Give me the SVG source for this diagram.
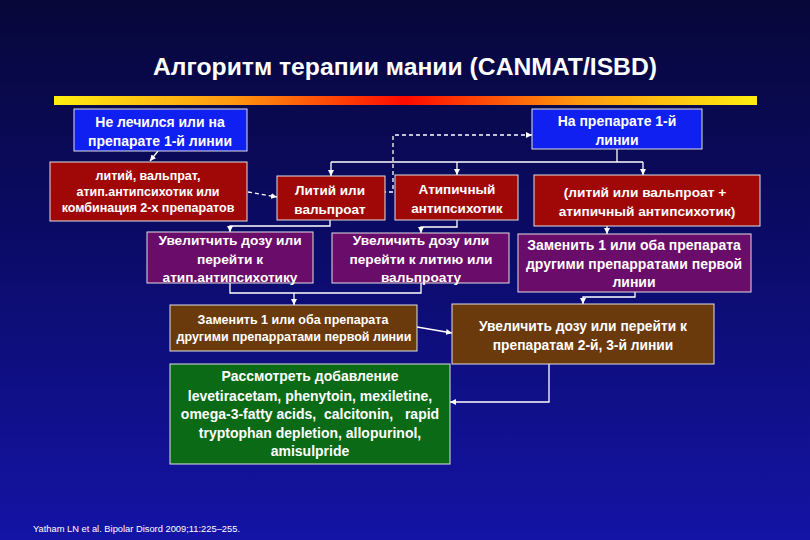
<svg xmlns="http://www.w3.org/2000/svg" width="810" height="540" viewBox="0 0 810 540">
<defs>
<linearGradient id="bg" x1="0" y1="0" x2="0" y2="1">
<stop offset="0" stop-color="#07073a"/>
<stop offset="0.45" stop-color="#0b0b68"/>
<stop offset="1" stop-color="#1414a6"/>
</linearGradient>
<linearGradient id="bar" x1="0" y1="0" x2="1" y2="0">
<stop offset="0" stop-color="#ffee10"/>
<stop offset="0.25" stop-color="#ff9a10"/>
<stop offset="0.5" stop-color="#ff0a00"/>
<stop offset="0.75" stop-color="#ff9a10"/>
<stop offset="1" stop-color="#ffee10"/>
</linearGradient>
<marker id="ah" viewBox="0 0 6 6" refX="6" refY="3" markerWidth="6" markerHeight="6" markerUnits="userSpaceOnUse" orient="auto">
<path d="M0,0 L6,3 L0,6 z" fill="#ffffff"/>
</marker>
<style>
.bx{stroke:#e0e0e0;stroke-width:1}
.blue{fill:#1020f0}
.red{fill:#a00808}
.pur{fill:#6a0c6a}
.brn{fill:#6b3a0c}
.grn{fill:#0b6a16}
text{font-family:"Liberation Sans",Arial,sans-serif;fill:#ffffff;text-anchor:middle;font-weight:bold}
.c{fill:none;stroke:#ffffff;stroke-width:1.3}
.d{stroke-dasharray:4 3}
</style>
</defs>
<rect width="810" height="540" fill="url(#bg)"/>
<text x="405" y="75" font-size="24" textLength="504" lengthAdjust="spacingAndGlyphs">Алгоритм терапии мании (CANMAT/ISBD)</text>
<rect x="54" y="96" width="703" height="9" fill="url(#bar)"/>

<g id="connectors">
<line class="c" x1="158" y1="151" x2="150" y2="161" marker-end="url(#ah)"/>
<line class="c d" x1="248" y1="192" x2="277" y2="197" marker-end="url(#ah)"/>
<polyline class="c d" points="375,192 393,192 393,135 532,135" marker-end="url(#ah)"/>
<polyline class="c" points="617,149 617,162"/>
<polyline class="c" points="331,162 643,162"/>
<line class="c" x1="331" y1="162" x2="331" y2="176" marker-end="url(#ah)"/>
<line class="c" x1="457" y1="162" x2="457" y2="175" marker-end="url(#ah)"/>
<line class="c" x1="643" y1="162" x2="643" y2="175" marker-end="url(#ah)"/>
<polyline class="c" points="330,220 330,226 230,226 230,232" marker-end="url(#ah)"/>
<polyline class="c" points="457,220 457,227 421,227 421,233" marker-end="url(#ah)"/>
<line class="c" x1="607" y1="226" x2="607" y2="234" marker-end="url(#ah)"/>
<polyline class="c" points="230,283 230,293 421,293 421,283"/>
<line class="c" x1="294" y1="293" x2="294" y2="305" marker-end="url(#ah)"/>
<polyline class="c" points="635,292 635,297 583,297 583,304" marker-end="url(#ah)"/>
<line class="c" x1="417" y1="327" x2="452" y2="333" marker-end="url(#ah)"/>
<polyline class="c" points="549,350 549,402 450,402" marker-end="url(#ah)"/>
</g>

<g id="n-untreated">
<rect class="bx blue" x="74" y="109" width="173" height="42"/>
<text x="160" y="127" font-size="14">Не лечился или на</text>
<text x="160" y="146" font-size="14">препарате 1-й линии</text>
</g>
<g id="n-onfirst">
<rect class="bx blue" x="532" y="109" width="170" height="40"/>
<text x="617" y="126" font-size="14">На препарате 1-й</text>
<text x="617" y="145" font-size="14">линии</text>
</g>
<g id="n-options">
<rect class="bx red" x="50" y="162" width="197" height="59"/>
<text x="148" y="180" font-size="12.5">литий, вальпрат,</text>
<text x="148" y="196" font-size="12.5">атип.антипсихотик или</text>
<text x="148" y="212" font-size="12.5">комбинация 2-х препаратов</text>
</g>
<g id="n-lithium">
<rect class="bx red" x="277" y="176" width="108" height="44"/>
<text x="330" y="195" font-size="13.5">Литий или</text>
<text x="330" y="214" font-size="13.5">вальпроат</text>
</g>
<g id="n-atyp">
<rect class="bx red" x="395" y="175" width="123" height="45"/>
<text x="457" y="194" font-size="13.5">Атипичный</text>
<text x="457" y="213" font-size="13.5">антипсихотик</text>
</g>
<g id="n-combo">
<rect class="bx red" x="534" y="175" width="226" height="51"/>
<text x="645" y="197" font-size="13.7">(литий или вальпроат +</text>
<text x="647" y="216" font-size="13.7">атипичный антипсихотик)</text>
</g>
<g id="n-inc1">
<rect class="bx pur" x="147" y="232" width="166" height="51"/>
<text x="230" y="245" font-size="13.7">Увелитчить дозу или</text>
<text x="230" y="264" font-size="13.7">перейти к</text>
<text x="230" y="282" font-size="13.7">атип.антипсихотику</text>
</g>
<g id="n-inc2">
<rect class="bx pur" x="332" y="233" width="177" height="50"/>
<text x="421" y="245" font-size="13.7">Увеличить дозу или</text>
<text x="421" y="264" font-size="13.7">перейти к литию или</text>
<text x="421" y="282" font-size="13.7">вальпроату</text>
</g>
<g id="n-replace2">
<rect class="bx pur" x="518" y="234" width="233" height="58"/>
<text x="634" y="250" font-size="14">Заменить 1 или оба препарата</text>
<text x="634" y="269" font-size="14">другими препарратами первой</text>
<text x="634" y="287" font-size="14">линии</text>
</g>
<g id="n-replace1">
<rect class="bx brn" x="170" y="305" width="247" height="46"/>
<text x="293" y="324" font-size="12.5">Заменить 1 или оба препарата</text>
<text x="294" y="341" font-size="12.5">другими препарратами первой линии</text>
</g>
<g id="n-second">
<rect class="bx brn" x="452" y="304" width="262" height="60"/>
<text x="583" y="331" font-size="13.8">Увеличить дозу или перейти к</text>
<text x="583" y="350" font-size="13.8">препаратам 2-й, 3-й линии</text>
</g>
<g id="n-addon">
<rect class="bx grn" x="170" y="364" width="280" height="100"/>
<text x="310" y="381" font-size="14">Рассмотреть добавление</text>
<text x="310" y="401" font-size="14">levetiracetam, phenytoin, mexiletine,</text>
<text x="310" y="419" font-size="14" xml:space="preserve">omega-3-fatty acids,  calcitonin,   rapid</text>
<text x="310" y="438" font-size="14">tryptophan depletion, allopurinol,</text>
<text x="310" y="456" font-size="14">amisulpride</text>
</g>
<text x="33" y="532" font-size="8.5" style="text-anchor:start;font-weight:normal" textLength="207" lengthAdjust="spacingAndGlyphs">Yatham LN et al. Bipolar Disord 2009;11:225–255.</text>
</svg>
